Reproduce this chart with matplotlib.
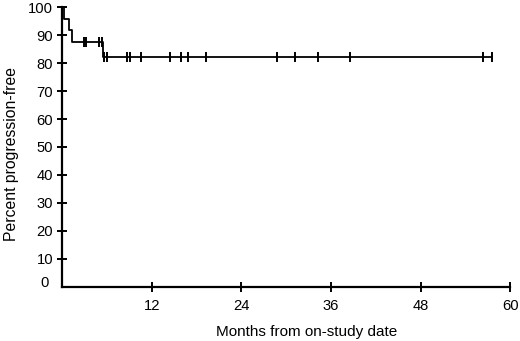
import numpy as np
import matplotlib.pyplot as plt
import matplotlib.transforms as mtransforms

plt.rcParams['font.family'] = ['Liberation Sans', 'DejaVu Sans']

# Kaplan-Meier steps: time of each drop (months) and level after it (%)
step_times = [0, 0.25, 0.88, 1.29, 5.45, 57.6]
step_levels = [100, 95.8, 91.7, 87.5, 82.0, 82.0]

# censored patients (months)
censor_times = [2.93, 3.16, 4.94, 5.3, 5.6, 6.0, 8.6, 9.05, 10.6, 14.4,
                15.9, 16.85, 19.2, 28.77, 31.23, 34.26, 38.5, 56.35, 57.6]

x_ticks = [12, 24, 36, 48, 60]
y_ticks = list(range(0, 101, 10))

fig = plt.figure(figsize=(5.2, 3.41), dpi=100)
ax = fig.add_axes([0.12, 0.159, 0.861, 0.82])

ax.step(step_times, step_levels, where="post", color="black", linewidth=1.3, clip_on=False)

# censor marks sit on the curve level at that time
idx = np.searchsorted(step_times, censor_times, side="right") - 1
censor_levels = np.array(step_levels)[idx]
ax.plot(censor_times, censor_levels, linestyle="none", marker="|", markersize=7,
        markeredgewidth=1.4, color="black", clip_on=False)

ax.set_xlim(0, 60)
ax.set_ylim(0, 100)
ax.set_xticks(x_ticks)
ax.set_yticks(y_ticks)

for side in ["top", "right"]:
    ax.spines[side].set_visible(False)
for side in ["left", "bottom"]:
    ax.spines[side].set_linewidth(1.6)

ax.tick_params(axis="both", direction="inout", length=7, width=1.4, labelsize=10.6)
ax.tick_params(axis="x", pad=5)
ax.tick_params(axis="y", pad=3)
zero_tick = ax.yaxis.get_major_ticks()[0]
zero_tick.tick1line.set_visible(False)
# the "0" label sits a little up and left in the original
shift = mtransforms.ScaledTranslation(-0.05, 0.05, fig.dpi_scale_trans)
zero_tick.label1.set_transform(zero_tick.label1.get_transform() + shift)

ax.set_xlabel("Months from on-study date", fontsize=11, labelpad=9)
ax.xaxis.set_label_coords(0.546, -0.135)
ax.set_ylabel("Percent progression-free", fontsize=11.3, labelpad=6)
ax.yaxis.set_label_coords(-0.096, 0.475)

fig.savefig("out.png", dpi=100)
